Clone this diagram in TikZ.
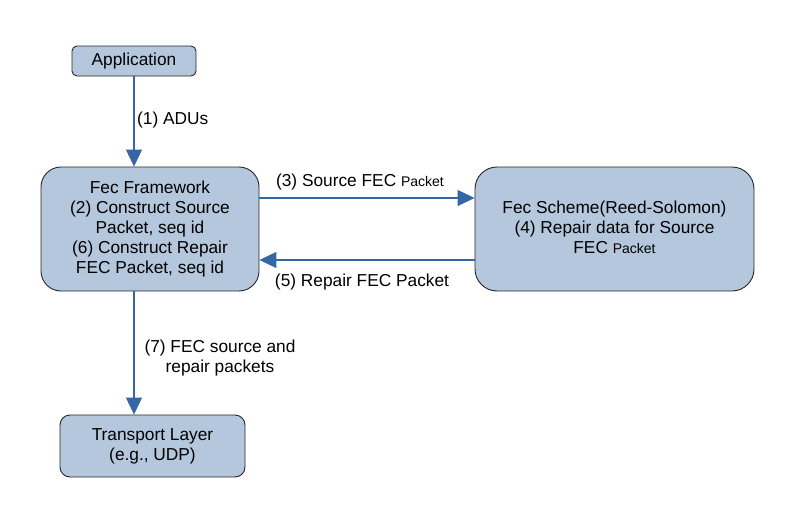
\documentclass[tikz,border=0pt]{standalone}
\usepackage{fontspec}
\setmainfont{Liberation Sans}
\usetikzlibrary{arrows.meta}
\definecolor{boxfill}{HTML}{B4C7DC}
\definecolor{arrowblue}{HTML}{3465A4}
\newcommand{\bxt}[1]{\raisebox{-2.5pt}{\begin{tabular}{@{}c@{}}#1\end{tabular}}}
\begin{document}
\begin{tikzpicture}[x=1pt,y=-1pt,
  box/.style={draw=black!85,fill=boxfill,line width=0.9pt,align=center,inner sep=0pt,
     font=\fontsize{17.3}{20}\selectfont},
  conn/.style={draw=arrowblue,line width=1.1pt,-{Triangle[length=17pt,width=16pt]}},
  lbl/.style={font=\fontsize{17.3}{20}\selectfont,align=center,inner sep=0pt}]
\useasboundingbox (0,0) rectangle (812,514);
\newcommand{\smp}{{\fontsize{14}{20}\selectfont Packet}}
\node[box,rounded corners=5pt,minimum width=124pt,minimum height=30pt] (app) at (134,61) {\bxt{Application}};
\node[box,rounded corners=20pt,minimum width=218pt,minimum height=124pt] (fw) at (150,229)
  {\bxt{Fec Framework\\(2) Construct Source\\Packet, seq id\\(6) Construct Repair\\FEC Packet, seq id}};
\node[box,rounded corners=22pt,minimum width=279pt,minimum height=124pt] (fs) at (614.5,229)
  {\bxt{Fec Scheme(Reed-Solomon)\\(4) Repair data for Source\\FEC \smp}};
\node[box,rounded corners=10pt,minimum width=185pt,minimum height=62pt] (tl) at (152.5,446)
  {\bxt{Transport Layer\\(e.g., UDP)}};
\coordinate (ya) at (0,198);
\coordinate (yb) at (0,260);
\draw[conn] (app.south) -- (fw.north -| app.south);
\draw[conn] (fs.west |- yb) -- (fw.east |- yb);
\draw[conn] (fw.east |- ya) -- (fs.west |- ya);
\draw[conn] (fw.south -| app.south) -- (tl.north -| app.south);
\node[lbl,anchor=west] (l1) at (137,120) {(1) ADUs};
\node[lbl] (l3) at (360,182) {(3) Source FEC \smp};
\node[lbl] (l5) at (362,282) {(5) Repair FEC Packet};
\node[lbl] (l7) at (220,358) {(7) FEC source and\\repair packets};
\end{tikzpicture}
\end{document}
